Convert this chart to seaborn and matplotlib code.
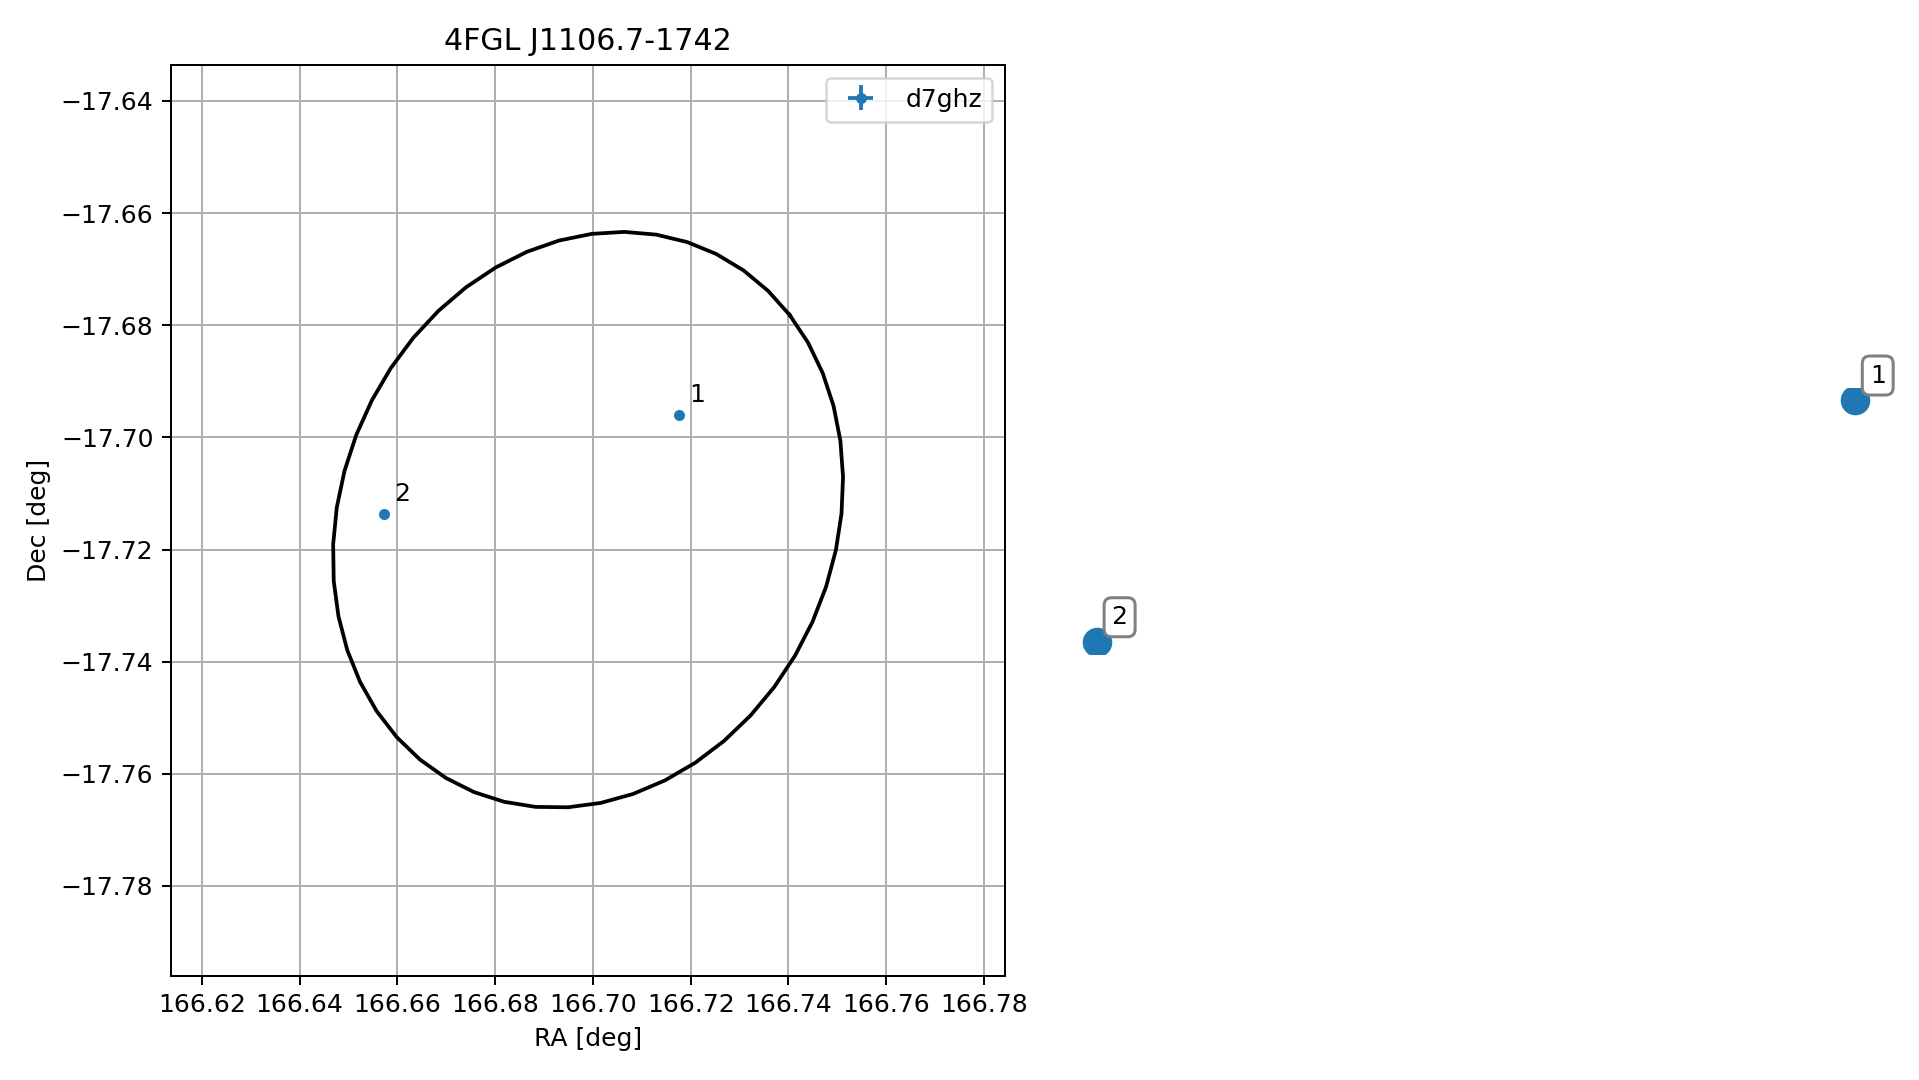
import numpy as np
import matplotlib
matplotlib.use("Agg")
import matplotlib.pyplot as plt
import seaborn as sns

# Source and counterpart candidates
title = "4FGL J1106.7-1742"
labels = ["1", "2"]
ra = [166.7177, 166.6573]
dec = [-17.6960, -17.7136]
ra_err = [0.0003, 0.0003]
dec_err = [0.0003, 0.0003]
survey = "d7ghz"

# 4FGL error ellipse
ell_ra = 166.699
ell_dec = -17.7147
ell_a = 0.0551
ell_b = 0.0482
ell_angle = 41.5
n_vertices = 50

plt.rcParams["font.family"] = ["DejaVu Sans"]

fig = plt.figure(figsize=(1919 / 180, 1080 / 180), dpi=180)
ax = fig.add_axes([0.0891, 0.0966, 0.4346, 0.8432])

# ellipse outline
t = np.linspace(0, 2 * np.pi, n_vertices)
th = np.deg2rad(ell_angle)
ex = ell_ra + ell_a * np.cos(t) * np.cos(th) - ell_b * np.sin(t) * np.sin(th)
ey = ell_dec + ell_a * np.cos(t) * np.sin(th) + ell_b * np.sin(t) * np.cos(th)
ax.plot(ex, ey, color="black", lw=1.5)

ax.errorbar(ra, dec, xerr=ra_err, yerr=dec_err, fmt="o", ms=3.4, color="C0", label=survey)
for lab, x, y in zip(labels, ra, dec):
    ax.annotate(lab, (x, y), xytext=(4, 3), textcoords="offset points",
                ha="left", va="bottom", fontsize=10)

ax.set_xlim(ell_ra - 0.0853, ell_ra + 0.0853)
ax.set_ylim(ell_dec - 0.0813, ell_dec + 0.0811)
ax.ticklabel_format(useOffset=False)
ax.grid(True)
ax.set_title(title)
ax.set_xlabel("RA [deg]")
ax.set_ylabel("Dec [deg]")
ax.legend(loc="upper right")

# second panel: the same candidates, drawn large with boxed labels
ax2 = fig.add_axes([0.5517, 0.3946, 0.4346, 0.2462])
sns.scatterplot(x=ra, y=dec, s=140, color="C0", linewidth=0, ax=ax2)
for lab, x, y in zip(labels, ra, dec):
    ax2.annotate(lab, (x, y), xytext=(6, 5), textcoords="offset points",
                 ha="left", va="bottom", fontsize=10,
                 bbox=dict(boxstyle="round,pad=0.3", fc="white", ec="gray", lw=1.2))
ax2.axis("off")

fig.savefig("out.png", dpi=180)
